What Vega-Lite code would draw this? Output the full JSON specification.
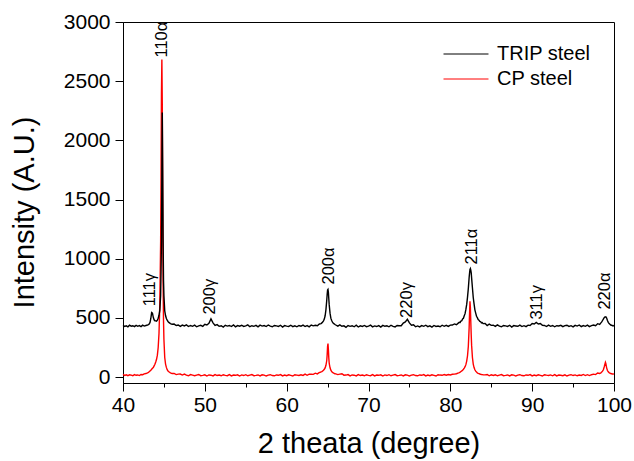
{
  "$schema": "https://vega.github.io/schema/vega-lite/v6.json",
  "width": 491,
  "height": 361,
  "autosize": "none",
  "padding": {"left": 123, "top": 22, "right": 20, "bottom": 78},
  "background": "white",
  "config": {
    "view": {"stroke": "black", "strokeWidth": 1},
    "axis": {"grid": false, "domainColor": "black", "tickColor": "black", "labelColor": "black", "titleColor": "black", "labelFont": "Liberation Sans", "titleFont": "Liberation Sans", "labelFontSize": 21, "titleFontSize": 29, "titleFontWeight": "normal"}
  },
  "data": {"values": [
    {"x":40,"T":436,"C":22},{"x":40.2,"T":428,"C":14},{"x":40.4,"T":433,"C":19},{"x":40.6,"T":425,"C":12},{"x":40.8,"T":438,"C":20},{"x":41,"T":430,"C":16},{"x":41.2,"T":434,"C":11},{"x":41.4,"T":426,"C":21},{"x":41.6,"T":437,"C":15},{"x":41.8,"T":429,"C":18},{"x":42,"T":435,"C":13},{"x":42.2,"T":427,"C":22},{"x":42.4,"T":439,"C":20},{"x":42.6,"T":431,"C":27},{"x":42.8,"T":436,"C":30},
    {"x":43,"T":440,"C":36},{"x":43.1,"T":443,"C":40},{"x":43.2,"T":448,"C":45},{"x":43.3,"T":462,"C":52},{"x":43.4,"T":495,"C":58},{"x":43.5,"T":545,"C":66},{"x":43.6,"T":540,"C":74},{"x":43.7,"T":505,"C":80},{"x":43.8,"T":484,"C":95},{"x":43.9,"T":476,"C":108},{"x":44,"T":475,"C":128},{"x":44.1,"T":472,"C":150},{"x":44.2,"T":482,"C":185},{"x":44.3,"T":497,"C":250},{"x":44.4,"T":522,"C":370},{"x":44.5,"T":565,"C":620},{"x":44.6,"T":690,"C":1150},{"x":44.65,"T":900,"C":1700},{"x":44.7,"T":1150,"C":2400},{"x":44.75,"T":1750,"C":2684},{"x":44.8,"T":2236,"C":2300},{"x":44.85,"T":1750,"C":1500},{"x":44.9,"T":1180,"C":800},{"x":44.95,"T":820,"C":480},{"x":45,"T":690,"C":320},{"x":45.1,"T":560,"C":165},{"x":45.2,"T":520,"C":110},{"x":45.3,"T":495,"C":82},{"x":45.4,"T":480,"C":62},{"x":45.5,"T":470,"C":52},{"x":45.6,"T":462,"C":45},{"x":45.8,"T":452,"C":36},{"x":46,"T":446,"C":30},
    {"x":46.25,"T":448,"C":31},{"x":46.5,"T":436,"C":21},{"x":46.75,"T":440,"C":25},{"x":47,"T":428,"C":26},{"x":47.25,"T":439,"C":17},{"x":47.5,"T":432,"C":25},{"x":47.75,"T":441,"C":16},{"x":48,"T":427,"C":11},{"x":48.25,"T":436,"C":21},{"x":48.5,"T":429,"C":16},{"x":48.75,"T":439,"C":11},{"x":49,"T":425,"C":17},{"x":49.25,"T":432,"C":22},{"x":49.5,"T":437,"C":12},{"x":49.75,"T":429,"C":14},{"x":50,"T":446,"C":19},{"x":50.25,"T":440,"C":9},{"x":50.5,"T":454,"C":18},{"x":50.75,"T":492,"C":16},{"x":51,"T":458,"C":10},{"x":51.25,"T":436,"C":21},{"x":51.5,"T":443,"C":13},{"x":51.75,"T":429,"C":17},{"x":52,"T":434,"C":11},{"x":52.25,"T":423,"C":20},{"x":52.5,"T":438,"C":14},{"x":52.75,"T":431,"C":12},{"x":53,"T":436,"C":21},{"x":53.25,"T":427,"C":10},{"x":53.5,"T":440,"C":17},{"x":53.75,"T":425,"C":15},{"x":54,"T":435,"C":19},{"x":54.25,"T":430,"C":9},{"x":54.5,"T":438,"C":18},{"x":54.75,"T":428,"C":13},{"x":55,"T":432,"C":20},{"x":55.25,"T":441,"C":11},{"x":55.5,"T":426,"C":16},{"x":55.75,"T":434,"C":21},{"x":56,"T":429,"C":12},{"x":56.25,"T":437,"C":14},{"x":56.5,"T":424,"C":18},{"x":56.75,"T":439,"C":10},{"x":57,"T":431,"C":19},{"x":57.25,"T":435,"C":17},{"x":57.5,"T":427,"C":9},{"x":57.75,"T":440,"C":16},{"x":58,"T":430,"C":20},{"x":58.25,"T":425,"C":13},{"x":58.5,"T":436,"C":11},{"x":58.75,"T":433,"C":18},{"x":59,"T":428,"C":15},{"x":59.25,"T":438,"C":21},{"x":59.5,"T":423,"C":10},{"x":59.75,"T":435,"C":17},{"x":60,"T":431,"C":12},{"x":60.25,"T":428,"C":19},{"x":60.5,"T":438,"C":14},{"x":60.75,"T":426,"C":9},{"x":61,"T":433,"C":20},{"x":61.25,"T":425,"C":17},{"x":61.5,"T":436,"C":14},{"x":61.75,"T":430,"C":20},{"x":62,"T":439,"C":14},{"x":62.25,"T":427,"C":25},{"x":62.5,"T":435,"C":15},{"x":62.75,"T":425,"C":24},{"x":63,"T":440,"C":24},{"x":63.25,"T":433,"C":23},{"x":63.5,"T":438,"C":33},{"x":63.75,"T":434,"C":27},{"x":64,"T":449,"C":39},
    {"x":64.1,"T":450,"C":40},{"x":64.2,"T":452,"C":44},{"x":64.3,"T":458,"C":46},{"x":64.4,"T":465,"C":52},{"x":64.5,"T":475,"C":58},{"x":64.6,"T":490,"C":66},{"x":64.7,"T":518,"C":78},{"x":64.8,"T":570,"C":100},{"x":64.9,"T":650,"C":140},{"x":64.95,"T":700,"C":190},{"x":65,"T":735,"C":260},{"x":65.05,"T":740,"C":283},{"x":65.1,"T":715,"C":230},{"x":65.15,"T":660,"C":160},{"x":65.2,"T":610,"C":115},{"x":65.3,"T":540,"C":78},{"x":65.4,"T":498,"C":58},{"x":65.5,"T":478,"C":46},{"x":65.6,"T":465,"C":40},{"x":65.7,"T":455,"C":35},{"x":65.8,"T":450,"C":32},{"x":65.9,"T":444,"C":28},{"x":66,"T":440,"C":27},
    {"x":66.25,"T":430,"C":21},{"x":66.5,"T":441,"C":25},{"x":66.75,"T":429,"C":28},{"x":67,"T":433,"C":16},{"x":67.25,"T":421,"C":17},{"x":67.5,"T":436,"C":21},{"x":67.75,"T":429,"C":10},{"x":68,"T":434,"C":18},{"x":68.25,"T":425,"C":16},{"x":68.5,"T":438,"C":10},{"x":68.75,"T":423,"C":21},{"x":69,"T":433,"C":13},{"x":69.25,"T":428,"C":17},{"x":69.5,"T":436,"C":11},{"x":69.75,"T":426,"C":20},{"x":70,"T":430,"C":14},{"x":70.25,"T":439,"C":12},{"x":70.5,"T":424,"C":21},{"x":70.75,"T":432,"C":10},{"x":71,"T":427,"C":17},{"x":71.25,"T":435,"C":15},{"x":71.5,"T":422,"C":19},{"x":71.75,"T":437,"C":9},{"x":72,"T":429,"C":18},{"x":72.25,"T":433,"C":13},{"x":72.5,"T":425,"C":20},{"x":72.75,"T":438,"C":11},{"x":73,"T":428,"C":16},{"x":73.25,"T":424,"C":21},{"x":73.5,"T":436,"C":12},{"x":73.75,"T":434,"C":14},{"x":74,"T":434,"C":18},{"x":74.25,"T":456,"C":10},{"x":74.5,"T":466,"C":19},{"x":74.75,"T":488,"C":17},{"x":75,"T":458,"C":9},{"x":75.25,"T":439,"C":16},{"x":75.5,"T":442,"C":20},{"x":75.75,"T":425,"C":13},{"x":76,"T":432,"C":11},{"x":76.25,"T":424,"C":18},{"x":76.5,"T":435,"C":15},{"x":76.75,"T":429,"C":21},{"x":77,"T":438,"C":10},{"x":77.25,"T":426,"C":17},{"x":77.5,"T":433,"C":12},{"x":77.75,"T":422,"C":19},{"x":78,"T":436,"C":14},{"x":78.25,"T":428,"C":9},{"x":78.5,"T":431,"C":20},{"x":78.75,"T":425,"C":17},{"x":79,"T":438,"C":15},{"x":79.25,"T":429,"C":21},{"x":79.5,"T":437,"C":16},{"x":79.75,"T":428,"C":22},{"x":80,"T":439,"C":18},{"x":80.25,"T":440,"C":24},{"x":80.5,"T":449,"C":25},{"x":80.75,"T":442,"C":28},{"x":81,"T":458,"C":35},
    {"x":81.1,"T":463,"C":38},{"x":81.2,"T":462,"C":42},{"x":81.3,"T":474,"C":47},{"x":81.4,"T":476,"C":52},{"x":81.5,"T":492,"C":58},{"x":81.6,"T":497,"C":66},{"x":81.7,"T":518,"C":76},{"x":81.8,"T":536,"C":88},{"x":81.9,"T":572,"C":105},{"x":82,"T":614,"C":135},{"x":82.1,"T":676,"C":180},{"x":82.2,"T":750,"C":260},{"x":82.3,"T":843,"C":420},{"x":82.35,"T":878,"C":540},{"x":82.4,"T":910,"C":641},{"x":82.45,"T":917,"C":590},{"x":82.5,"T":903,"C":470},{"x":82.55,"T":882,"C":360},{"x":82.6,"T":838,"C":270},{"x":82.7,"T":755,"C":165},{"x":82.8,"T":672,"C":110},{"x":82.9,"T":618,"C":80},{"x":83,"T":568,"C":62},{"x":83.1,"T":540,"C":50},{"x":83.2,"T":514,"C":42},{"x":83.3,"T":502,"C":36},{"x":83.4,"T":486,"C":32},{"x":83.5,"T":481,"C":29},{"x":83.6,"T":470,"C":26},{"x":83.7,"T":468,"C":24},{"x":83.8,"T":458,"C":22},{"x":83.9,"T":460,"C":21},{"x":84,"T":452,"C":20},
    {"x":84.25,"T":453,"C":19},{"x":84.5,"T":436,"C":22},{"x":84.75,"T":448,"C":11},{"x":85,"T":437,"C":19},{"x":85.25,"T":439,"C":14},{"x":85.5,"T":429,"C":20},{"x":85.75,"T":441,"C":11},{"x":86,"T":430,"C":16},{"x":86.25,"T":425,"C":21},{"x":86.5,"T":436,"C":12},{"x":86.75,"T":433,"C":14},{"x":87,"T":428,"C":18},{"x":87.25,"T":438,"C":10},{"x":87.5,"T":423,"C":19},{"x":87.75,"T":435,"C":17},{"x":88,"T":432,"C":9},{"x":88.25,"T":429,"C":16},{"x":88.5,"T":439,"C":20},{"x":88.75,"T":427,"C":13},{"x":89,"T":434,"C":11},{"x":89.25,"T":426,"C":18},{"x":89.5,"T":439,"C":15},{"x":89.75,"T":436,"C":21},{"x":90,"T":452,"C":10},{"x":90.25,"T":448,"C":17},{"x":90.5,"T":462,"C":12},{"x":90.75,"T":449,"C":19},{"x":91,"T":453,"C":14},{"x":91.25,"T":437,"C":9},{"x":91.5,"T":436,"C":20},{"x":91.75,"T":427,"C":16},{"x":92,"T":439,"C":13},{"x":92.25,"T":429,"C":18},{"x":92.5,"T":436,"C":11},{"x":92.75,"T":425,"C":21},{"x":93,"T":434,"C":10},{"x":93.25,"T":432,"C":17},{"x":93.5,"T":437,"C":15},{"x":93.75,"T":426,"C":12},{"x":94,"T":435,"C":19},{"x":94.25,"T":438,"C":9},{"x":94.5,"T":428,"C":16},{"x":94.75,"T":434,"C":20},{"x":95,"T":424,"C":13},{"x":95.25,"T":437,"C":18},{"x":95.5,"T":431,"C":11},{"x":95.75,"T":440,"C":17},{"x":96,"T":426,"C":14},{"x":96.25,"T":435,"C":22},{"x":96.5,"T":429,"C":13},{"x":96.75,"T":439,"C":20},{"x":97,"T":426,"C":13},{"x":97.25,"T":434,"C":20},{"x":97.5,"T":440,"C":25},{"x":97.75,"T":434,"C":21},{"x":98,"T":451,"C":34},{"x":98.25,"T":445,"C":31},
    {"x":98.4,"T":458,"C":36},{"x":98.5,"T":466,"C":42},{"x":98.6,"T":478,"C":50},{"x":98.7,"T":490,"C":62},{"x":98.8,"T":502,"C":85},{"x":98.9,"T":508,"C":112},{"x":98.95,"T":509,"C":125},{"x":99,"T":510,"C":115},{"x":99.1,"T":498,"C":78},{"x":99.2,"T":478,"C":55},{"x":99.3,"T":462,"C":44},{"x":99.4,"T":452,"C":38},{"x":99.5,"T":446,"C":34},{"x":99.6,"T":440,"C":30},{"x":99.7,"T":438,"C":28},{"x":99.8,"T":434,"C":26},{"x":99.9,"T":436,"C":27},{"x":100,"T":430,"C":25}
  ]},
  "encoding": {
    "x": {
      "field": "x", "type": "quantitative",
      "scale": {"domain": [40, 100], "nice": false, "zero": false},
      "axis": {
        "title": "2 theata (degree)",
        "values": [40, 45, 50, 55, 60, 65, 70, 75, 80, 85, 90, 95, 100],
        "labelExpr": "datum.value % 10 === 0 ? datum.label : ''",
        "tickSize": {"condition": {"test": "datum.value % 10 === 0", "value": 8}, "value": 4},
        "labelPadding": 3,
        "titlePadding": 14,
        "labelFlush": false,
        "labelOverlap": false
      }
    }
  },
  "layer": [
    {
      "mark": {"type": "line", "strokeWidth": 1.4, "interpolate": "linear"},
      "encoding": {
        "y": {
          "field": "C", "type": "quantitative", "title": "Intensity (A.U.)",
          "scale": {"domain": [-50, 3000], "nice": false, "zero": false},
          "axis": {
            "title": "Intensity (A.U.)",
            "values": [0, 250, 500, 750, 1000, 1250, 1500, 1750, 2000, 2250, 2500, 2750, 3000],
            "format": "d",
            "labelExpr": "datum.value % 500 === 0 ? datum.label : ''",
            "tickSize": {"condition": {"test": "datum.value % 500 === 0", "value": 8}, "value": 4},
            "labelPadding": 5,
            "titlePadding": 24,
            "titleY": 190,
            "labelOverlap": false
          }
        },
        "color": {
          "datum": "CP steel",
          "scale": {"domain": ["TRIP steel", "CP steel"], "range": ["black", "red"]},
          "legend": {
            "title": null,
            "orient": "none",
            "legendX": 331,
            "legendY": 20,
            "rowPadding": 3,
            "symbolType": "M-2,0H2",
            "symbolSize": 506,
            "symbolStrokeWidth": 1,
            "symbolFillColor": "transparent",
            "labelFont": "Liberation Sans",
            "labelFontSize": 20,
            "labelColor": "black",
            "labelOffset": 19
          }
        }
      }
    },
    {
      "mark": {"type": "line", "strokeWidth": 1.4, "interpolate": "linear"},
      "encoding": {
        "y": {"field": "T", "type": "quantitative", "title": "Intensity (A.U.)"},
        "color": {"datum": "TRIP steel"}
      }
    },
    {
      "data": {"values": [
        {"label": "110α", "x": 44.8, "y": 2700},
        {"label": "111γ", "x": 43.3, "y": 598},
        {"label": "200γ", "x": 50.6, "y": 528},
        {"label": "200α", "x": 65.2, "y": 782},
        {"label": "220γ", "x": 74.7, "y": 500},
        {"label": "211α", "x": 82.6, "y": 951},
        {"label": "311γ", "x": 90.6, "y": 486},
        {"label": "220α", "x": 98.9, "y": 570}
      ]},
      "mark": {"type": "text", "angle": 270, "align": "left", "baseline": "middle", "font": "Liberation Sans", "fontSize": 16.5, "color": "black"},
      "encoding": {
        "y": {"field": "y", "type": "quantitative", "title": "Intensity (A.U.)"},
        "text": {"field": "label"}
      }
    }
  ]
}
